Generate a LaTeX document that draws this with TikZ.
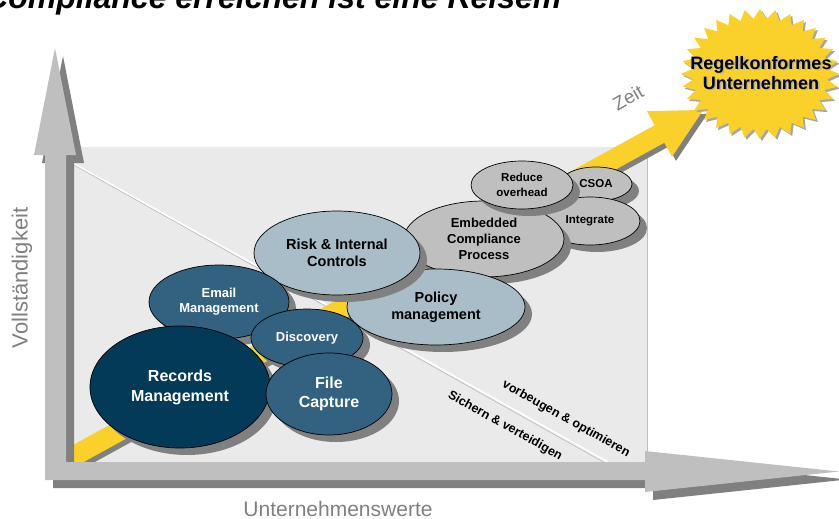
\documentclass[tikz,border=0pt]{standalone}
\usepackage{fontspec}
\setmainfont{Liberation Sans}
\usetikzlibrary{shapes.geometric, shadows}

\definecolor{navy}{RGB}{2,58,87}
\definecolor{steel}{RGB}{51,97,128}
\definecolor{mist}{RGB}{168,189,199}
\definecolor{stone}{RGB}{191,191,191}
\definecolor{shadowgray}{RGB}{128,128,128}
\definecolor{panel}{RGB}{234,234,234}
\definecolor{sun}{RGB}{250,209,42}
\definecolor{labelgray}{RGB}{128,128,128}

\newcommand{\fsz}[2]{\fontsize{#1}{#2}\selectfont}

\begin{document}
\begin{tikzpicture}[
  x=1pt, y=-1pt,
  every node/.style={font=\bfseries, align=center, inner sep=0pt},
  stage/.style={ellipse, draw=black, line width=0.7pt,
    drop shadow={shadow xshift=7pt, shadow yshift=-7pt, fill=shadowgray, opacity=1}},
  darkstage/.style={stage, fill=navy, text=white},
  midstage/.style={stage, fill=steel, text=white},
  lightstage/.style={stage, fill=mist},
  greystage/.style={stage, fill=stone},
  axislabel/.style={font=\fsz{21}{24}, text=labelgray},
  slogan/.style={font=\bfseries\fsz{12.5}{14}, rotate=-29.2}
]
\useasboundingbox (0,0) rectangle (839,519);
\clip (0,0) rectangle (839,519);

% title, cut off at the top edge
\node[anchor=base west, font=\bfseries\itshape\fsz{32}{36}] (title) at (-15,8.5)
  {Compliance erreichen ist eine Reisem};

% grey field and the split between the two zones
\fill[panel] (73,147) rectangle (647,462);
\draw[black!25, line width=0.6pt] (647,147) -- (647,462);
\draw[black!30, line width=0.5pt] (73,164.5) -- (606,463.5);
\draw[white, line width=1.5pt] (73,163) -- (608,462);

% time arrow (shadow first)
\foreach \d/\col in {4/shadowgray, 0/sun}
  \fill[\col, shift={(659.5+\d,134+\d)}, rotate=28.8]
    (-690,-10) -- (0,-10) -- (0,-26) -- (50,0) -- (0,26) -- (0,10) -- (-690,10) -- cycle;

% goal star
\foreach \d/\col in {2/black!35, 0/sun}
  \fill[\col, shift={(\d,\d)}] (839,74)
    \foreach \k in {1,...,63} {
      -- ({760+79*(1-0.15*isodd(\k))*cos(\k*5.625)}, {74+65*(1-0.15*isodd(\k))*sin(\k*5.625)})
    } -- cycle;
\node[font=\bfseries\fsz{18}{20}, text=black!30] (goalshade) at (762.5,74.5) {Regelkonformes\\Unternehmen};
\node[font=\bfseries\fsz{18}{20}] (goal) at (761,73) {Regelkonformes\\Unternehmen};
\node[font=\fsz{19}{22}, text=labelgray, rotate=30] (zeit) at (628,98) {Zeit};

% stages, back to front
\node[greystage, minimum width=72pt, minimum height=34pt, font=\bfseries\fsz{11.5}{15}] (csoa) at (596,184) {CSOA};
\node[greystage, minimum width=100pt, minimum height=48pt, font=\bfseries\fsz{11.5}{15}] (integrate) at (590,221) {Integrate};
\node[greystage, minimum width=160pt, minimum height=76pt, font=\bfseries\fsz{13}{16}] (embedded) at (484,239) {Embedded\\Compliance\\Process};
\node[greystage, minimum width=102pt, minimum height=48pt, font=\bfseries\fsz{11.5}{14.5}] (reduce) at (522,185) {Reduce\\overhead};
\node[lightstage, minimum width=178pt, minimum height=76pt, font=\bfseries\fsz{14.5}{17}] (policy) at (436,307) {Policy\\management};
\node[lightstage, minimum width=166pt, minimum height=84pt, font=\bfseries\fsz{14.5}{17}] (risk) at (337,253) {Risk \& Internal\\Controls};
\node[midstage, minimum width=140pt, minimum height=74pt, font=\bfseries\fsz{13}{15}] (email) at (219,302) {Email\\Management};
\node[midstage, minimum width=112pt, minimum height=58pt, font=\bfseries\fsz{13}{15}] (discovery) at (307,338) {Discovery};
\node[darkstage, minimum width=180pt, minimum height=122pt, font=\bfseries\fsz{16}{20}] (records) at (180,387) {Records\\Management};
\node[midstage, minimum width=126pt, minimum height=82pt, font=\bfseries\fsz{16}{19}] (filecap) at (329,394) {File\\Capture};

% zone labels along the split
\node[slogan] (prevent) at (566,419) {vorbeugen \& optimieren};
\node[slogan] (secure) at (505,426) {Sichern \& verteidigen};

% axes (shadow first)
\foreach \d/\col in {8/shadowgray, 0/stone}
  \fill[\col, shift={(\d,\d)}] (45,480) -- (45,155) -- (34,155) -- (55,48) -- (76,155)
    -- (66,155) -- (66,462) -- (645,462) -- (645,451) -- (839,471.5) -- (645,492)
    -- (645,480) -- cycle;

\node[axislabel, anchor=base] (xlabel) at (338,516) {Unternehmenswerte};
\node[axislabel, font=\fsz{22}{26}, rotate=90] (ylabel) at (22,278) {Vollständigkeit};

\end{tikzpicture}
\end{document}
